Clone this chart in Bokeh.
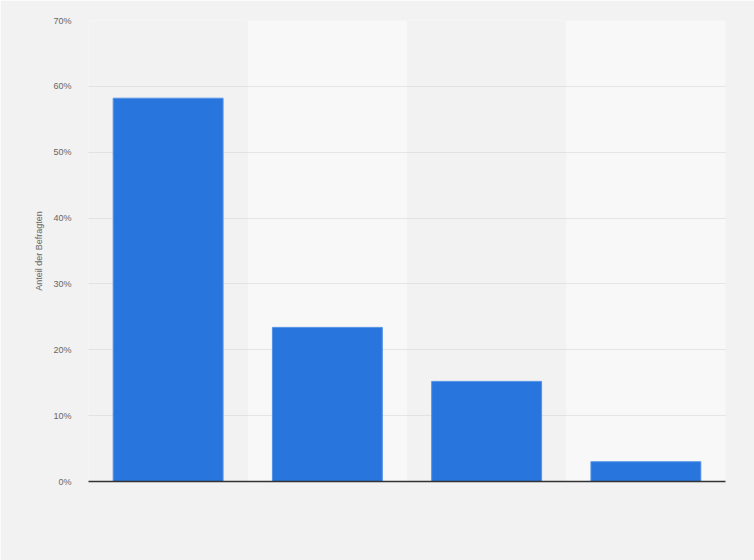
from bokeh.plotting import figure
from bokeh.models import FactorRange, Range1d, FixedTicker, PrintfTickFormatter, ColumnDataSource
from bokeh.embed import file_html
from bokeh.resources import INLINE

# Data
categories = ["1", "2", "3", "4"]
values = [58.2, 23.4, 15.2, 3.0]
y_ticks = [0, 10, 20, 30, 40, 50, 60, 70]
y_max = 70
band_categories = categories[1::2]

BG = "#f2f2f2"

p = figure(
    x_range=FactorRange(factors=categories),
    y_range=Range1d(0, y_max),
    width=754, height=560,
    output_backend="svg", toolbar_location=None,
    min_border_left=88, min_border_right=29,
    min_border_top=20, min_border_bottom=79,
)
p.background_fill_color = BG
p.border_fill_color = BG
p.outline_line_color = None

# alternating lighter column bands
band_src = ColumnDataSource(dict(x=band_categories, top=[y_max] * len(band_categories)))
p.vbar(x="x", top="top", bottom=0, width=1.0, source=band_src,
       fill_color="#f8f8f8", line_color=None, level="image")

src = ColumnDataSource(dict(x=categories, top=values))
p.vbar(x="x", top="top", bottom=0, width=0.69, source=src,
       fill_color="#2876dd", line_color="#5592e6", line_width=1)

# grid
p.xgrid.grid_line_color = None
p.ygrid.grid_line_color = "#d2d2d2"
p.ygrid.grid_line_dash = "1 1"
p.ygrid.grid_line_width = 1
p.ygrid.ticker = FixedTicker(ticks=y_ticks)

# y axis
yax = p.yaxis[0]
yax.ticker = FixedTicker(ticks=y_ticks)
yax.formatter = PrintfTickFormatter(format="%d%%")
yax.axis_line_color = None
yax.major_tick_line_color = None
yax.minor_tick_line_color = None
yax.major_label_standoff = 11
yax.major_label_text_font = "Liberation Sans"
yax.major_label_text_font_size = "9px"
yax.major_label_text_color = "#666666"
yax.axis_label = "Anteil der Befragten"
yax.axis_label_text_font = "Liberation Sans"
yax.axis_label_text_font_size = "9px"
yax.axis_label_text_font_style = "normal"
yax.axis_label_text_color = "#666666"
yax.axis_label_standoff = 6

# x axis
xax = p.xaxis[0]
xax.axis_line_color = "#333333"
xax.axis_line_width = 1.5
xax.major_tick_line_color = None
xax.minor_tick_line_color = None
xax.major_label_text_font_size = "0px"
xax.major_label_text_color = None

html = file_html(p, INLINE)
html = html.replace("<body>", '<body style="margin:0;background:#f2f2f2;overflow:hidden;">', 1)
open("out.html", "w").write(html)
